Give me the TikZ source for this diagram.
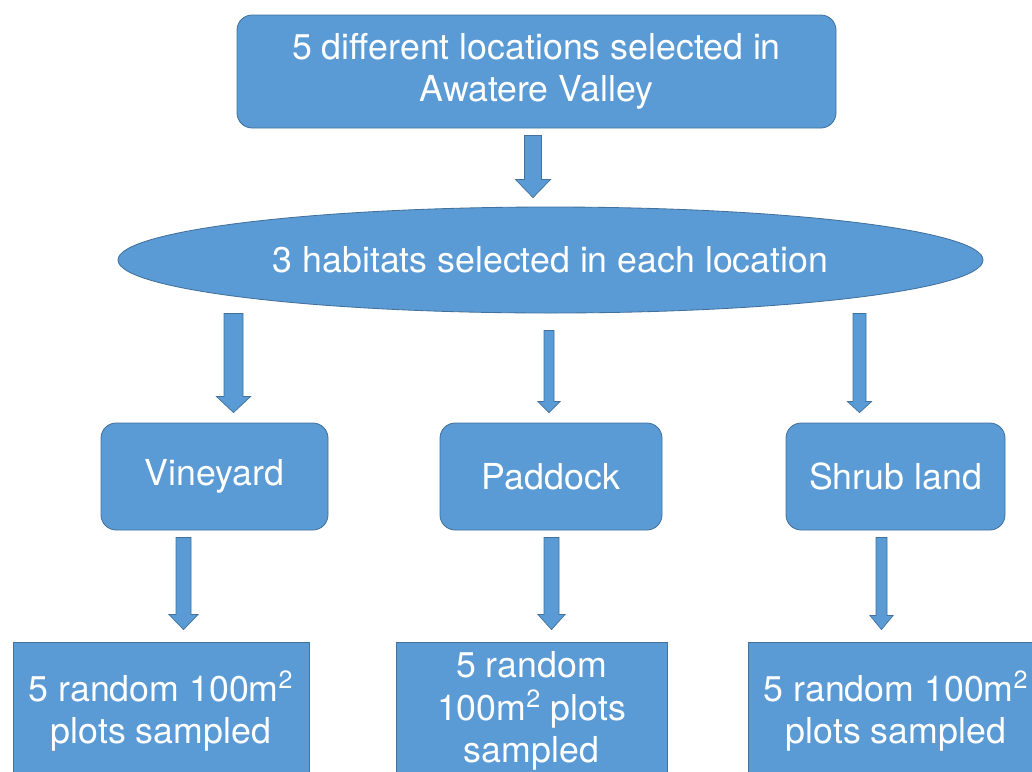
\documentclass[tikz,border=0pt]{standalone}
\usepackage{fontspec}
\setmainfont{TeX Gyre Heros}
\usepackage{tikz}
\usetikzlibrary{shapes.geometric, positioning, calc}
\definecolor{boxblue}{HTML}{5B9BD5}
\definecolor{boxedge}{HTML}{41719C}

\begin{document}
\begin{tikzpicture}[x=0.025cm, y=-0.025cm]
		\newcommand*{\pxu}{0.025cm}
		% block arrow: start, tip, half shaft, half head, head length
		\newcommand*{\blockarrow}[5]{%
			\draw[fill=boxblue, draw=boxedge, line width=0.5pt, line join=miter]
				($(#1)+(-#3,0)$) -- ($(#1)+(#3,0)$) -- ($(#2)+(#3,-#5)$) -- ($(#2)+(#4,-#5)$)
				-- (#2) -- ($(#2)+(-#4,-#5)$) -- ($(#2)+(-#3,-#5)$) -- cycle;
		}
		\tikzset{
			stage/.style={draw=boxedge, fill=boxblue, text=white, line width=0.6pt, align=center,
				inner sep=0pt, font=\fontsize{25.4}{30}\selectfont},
			roundbox/.style={stage, rounded corners=0.38cm, minimum height=107*\pxu},
			plotbox/.style={stage, minimum height=138*\pxu},
		}
		\clip (0,0) rectangle (1032,771);
		\node[roundbox, minimum width=599*\pxu, minimum height=113*\pxu] (locations) at (536.5,71.5)
			{5 different locations selected in\\Awatere Valley};
		\node[stage, ellipse, minimum width=865*\pxu, minimum height=106*\pxu] (habitats) at (550.5,260)
			{3 habitats selected in each location};
		\node[roundbox, minimum width=227*\pxu] (vineyard) at (214.5,476.5) {Vineyard};
		\node[roundbox, minimum width=222*\pxu] (paddock) at (551,476.5) {Paddock};
		\node[roundbox, minimum width=219*\pxu] (shrub) at (895.5,476.5) {Shrub land};
		\node[plotbox, minimum width=296*\pxu] (plots1) at (161,711)
			{5 random 100m\textsuperscript{2}\\plots sampled};
		\node[plotbox, minimum width=271*\pxu] (plots2) at (531.5,711)
			{5 random\\100m\textsuperscript{2} plots\\sampled};
		\node[plotbox, minimum width=296*\pxu] (plots3) at (896,711)
			{5 random 100m\textsuperscript{2}\\plots sampled};

		\coordinate (a1) at ($(locations.south)+(-3.5,7)$);
		\coordinate (a1t) at ($(habitats.north)+(-17.5,-9)$);
		\coordinate (a2) at ($(habitats.south)+(-317,0)$);
		\coordinate (a2t) at ($(vineyard.north)+(19,-10)$);
		\coordinate (a3) at ($(habitats.south)+(-1.5,17)$);
		\coordinate (a3t) at ($(paddock.north)+(-2,-10)$);
		\coordinate (a4) at ($(habitats.south)+(309,0)$);
		\coordinate (a4t) at ($(shrub.north)+(-36,-10)$);
		\coordinate (a5) at ($(vineyard.south)+(-31,7)$);
		\coordinate (a5t) at ($(plots1.north)+(22.5,-12)$);
		\coordinate (a6) at ($(paddock.south)+(0.5,7)$);
		\coordinate (a6t) at ($(plots2.north)+(20,-12)$);
		\coordinate (a7) at ($(shrub.south)+(-14,7)$);
		\coordinate (a7t) at ($(plots3.north)+(-14.5,-12)$);

		\blockarrow{a1}{a1t}{8.5}{17.5}{18}
		\blockarrow{a2}{a2t}{9.5}{17}{16}
		\blockarrow{a3}{a3t}{5}{11}{11}
		\blockarrow{a4}{a4t}{6.5}{12}{11}
		\blockarrow{a5}{a5t}{7.5}{14.5}{15}
		\blockarrow{a6}{a6t}{7.5}{13.5}{15}
		\blockarrow{a7}{a7t}{5.5}{11.5}{14}
\end{tikzpicture}
\end{document}
